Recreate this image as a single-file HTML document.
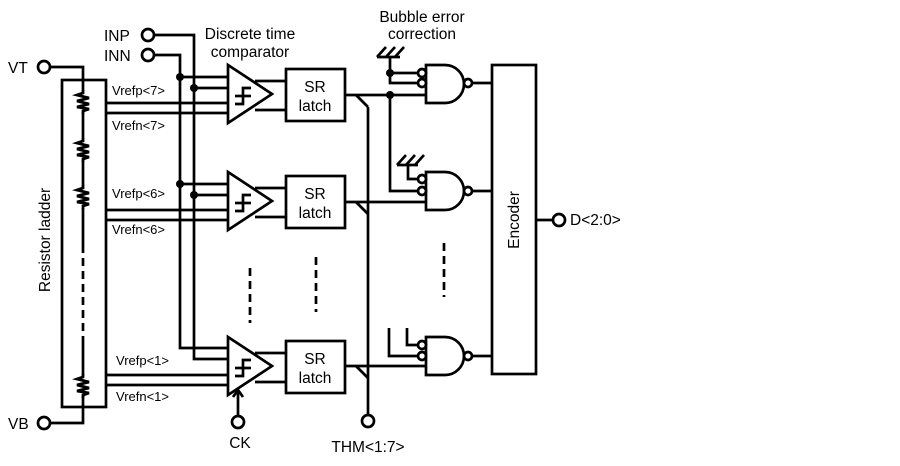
<!DOCTYPE html>
<html><head><meta charset="utf-8"><style>
html,body{margin:0;padding:0;background:#fff;}
svg{display:block;}
text{font-family:"Liberation Sans",Arial,sans-serif;fill:#000;}
</style></head><body>
<svg width="900" height="466" viewBox="0 0 900 466" xmlns="http://www.w3.org/2000/svg">
<defs>
<g id="res"><polyline points="0,-12 0,-9 -6,-7 6,-4 -6,-1 6,2 -6,5 6,7 0,9 0,12" fill="none" stroke="#000" stroke-width="2.8"/></g>
</defs>
<g stroke="#000" stroke-width="2.7" fill="none">
<rect x="62" y="80" width="44" height="327"/>
<circle cx="44" cy="67" r="6" fill="#fff"/>
<polyline points="50,67 83,67 83,91"/>
<line x1="83" y1="113" x2="83" y2="139"/>
<line x1="83" y1="161" x2="83" y2="186"/>
<line x1="83" y1="208" x2="83" y2="245"/>
<line x1="83" y1="245" x2="83" y2="340" stroke-dasharray="8,5"/>
<line x1="83" y1="340" x2="83" y2="375"/>
<circle cx="44" cy="423" r="6" fill="#fff"/>
<polyline points="50,423 83,423 83,396"/>
<circle cx="148" cy="35" r="6" fill="#fff"/>
<circle cx="148" cy="55" r="6" fill="#fff"/>
<polyline points="154,35 194,35 194,359 228,359"/>
<polyline points="154,55 180,55 180,348 228,348"/>
<line x1="180" y1="77" x2="228" y2="77"/><line x1="194" y1="88" x2="228" y2="88"/>
<line x1="106" y1="103" x2="228" y2="103"/><line x1="106" y1="113" x2="228" y2="113"/>
<line x1="180" y1="184" x2="228" y2="184"/><line x1="194" y1="195" x2="228" y2="195"/>
<line x1="106" y1="210" x2="228" y2="210"/><line x1="106" y1="220" x2="228" y2="220"/>
<line x1="106" y1="375" x2="228" y2="375"/><line x1="106" y1="385" x2="228" y2="385"/>
<g id="cmp">
<polygon points="228,65 272,94 228,123"/>
<polyline points="235,104 243,104 243,88 251,88"/>
<line x1="235" y1="96" x2="251" y2="96"/>
<line x1="255" y1="81" x2="286" y2="81"/><line x1="255" y1="110" x2="286" y2="110"/>
<rect x="286" y="69" width="59" height="52"/>
</g>
<use href="#cmp" y="107"/>
<use href="#cmp" y="272"/>
<circle cx="238" cy="422" r="6" fill="#fff"/>
<line x1="238" y1="416" x2="238" y2="392"/>
<polyline points="233,397 238,390 243,397"/>
<line x1="345" y1="95" x2="426" y2="95"/>
<line x1="345" y1="202" x2="426" y2="202"/>
<line x1="345" y1="366" x2="426" y2="366"/>
<line x1="356" y1="95" x2="368" y2="107"/>
<line x1="356" y1="202" x2="368" y2="214"/>
<line x1="356" y1="366" x2="368" y2="378"/>
<line x1="368" y1="107" x2="368" y2="415"/>
<circle cx="368" cy="421" r="6" fill="#fff"/>
<line x1="250" y1="268" x2="250" y2="323" stroke-dasharray="8,5"/>
<line x1="316" y1="257" x2="316" y2="312" stroke-dasharray="8,5"/>
<line x1="444" y1="243" x2="444" y2="297" stroke-dasharray="8,5"/>
<line x1="377" y1="57" x2="400" y2="57"/>
<line x1="377" y1="57" x2="386" y2="47"/><line x1="386" y1="57" x2="395" y2="47"/><line x1="395" y1="57" x2="404" y2="47"/>
<polyline points="390,57 390,83 418,83"/>
<line x1="390" y1="73" x2="418" y2="73"/>
<polyline points="390,95 390,191 418,191"/>
<line x1="397" y1="165" x2="418" y2="165"/>
<line x1="397" y1="165" x2="406" y2="155"/><line x1="406" y1="165" x2="415" y2="155"/><line x1="415" y1="165" x2="424" y2="155"/>
<polyline points="408,165 408,179 418,179"/>
<polyline points="389,328 389,356 418,356"/>
<polyline points="407,328 407,345 418,345"/>
<g>
<path d="M426,65 L445,65 A19,19 0 0 1 445,103 L426,103 Z"/>
<circle cx="422" cy="73" r="4" fill="#fff"/>
<circle cx="422" cy="83" r="4" fill="#fff"/>
<circle cx="468" cy="83" r="4" fill="#fff"/>
<line x1="472" y1="83" x2="492" y2="83"/>
</g>
<g transform="translate(0,107)"><path d="M426,65 L445,65 A19,19 0 0 1 445,103 L426,103 Z"/>
<circle cx="422" cy="72" r="4" fill="#fff"/><circle cx="422" cy="84" r="4" fill="#fff"/>
<circle cx="468" cy="84" r="4" fill="#fff"/><line x1="472" y1="84" x2="492" y2="84"/></g>
<g transform="translate(0,272)"><path d="M426,65 L445,65 A19,19 0 0 1 445,103 L426,103 Z"/>
<circle cx="422" cy="73" r="4" fill="#fff"/><circle cx="422" cy="84" r="4" fill="#fff"/>
<circle cx="468" cy="84" r="4" fill="#fff"/><line x1="472" y1="84" x2="492" y2="84"/></g>
<rect x="492" y="65" width="44" height="309"/>
<line x1="536" y1="220" x2="553" y2="220"/>
<circle cx="559" cy="220" r="6" fill="#fff"/>
</g>
<g fill="#000">
<circle cx="180" cy="77" r="4"/><circle cx="194" cy="88" r="4"/>
<circle cx="180" cy="184" r="4"/><circle cx="194" cy="195" r="4"/>
<circle cx="390" cy="73" r="4"/><circle cx="390" cy="95" r="4"/>
</g>
<use href="#res" x="83" y="102"/><use href="#res" x="83" y="150"/><use href="#res" x="83" y="197"/><use href="#res" x="83" y="386"/>
<g font-size="15.5">
<text x="8" y="73">VT</text>
<text x="8" y="429">VB</text>
<text x="104" y="41">INP</text>
<text x="104" y="61">INN</text>
<text x="250" y="39" text-anchor="middle">Discrete time</text>
<text x="250" y="57" text-anchor="middle">comparator</text>
<text x="422" y="22" text-anchor="middle">Bubble error</text>
<text x="422" y="39" text-anchor="middle">correction</text>
<text x="315" y="92" text-anchor="middle">SR</text><text x="315" y="111" text-anchor="middle">latch</text>
<text x="315" y="199" text-anchor="middle">SR</text><text x="315" y="218" text-anchor="middle">latch</text>
<text x="315" y="364" text-anchor="middle">SR</text><text x="315" y="383" text-anchor="middle">latch</text>
<text x="240" y="448" text-anchor="middle">CK</text>
<text x="368" y="452" text-anchor="middle">THM&lt;1:7&gt;</text>
<text x="570" y="225">D&lt;2:0&gt;</text>
<text transform="translate(50,240) rotate(-90)" text-anchor="middle">Resistor ladder</text>
<text transform="translate(519,220) rotate(-90)" text-anchor="middle">Encoder</text>
</g>
<g font-size="13">
<text x="112" y="95">Vrefp&lt;7&gt;</text>
<text x="112" y="130">Vrefn&lt;7&gt;</text>
<text x="112" y="198">Vrefp&lt;6&gt;</text>
<text x="112" y="234">Vrefn&lt;6&gt;</text>
<text x="116" y="365">Vrefp&lt;1&gt;</text>
<text x="116" y="401">Vrefn&lt;1&gt;</text>
</g>
</svg>
</body></html>
